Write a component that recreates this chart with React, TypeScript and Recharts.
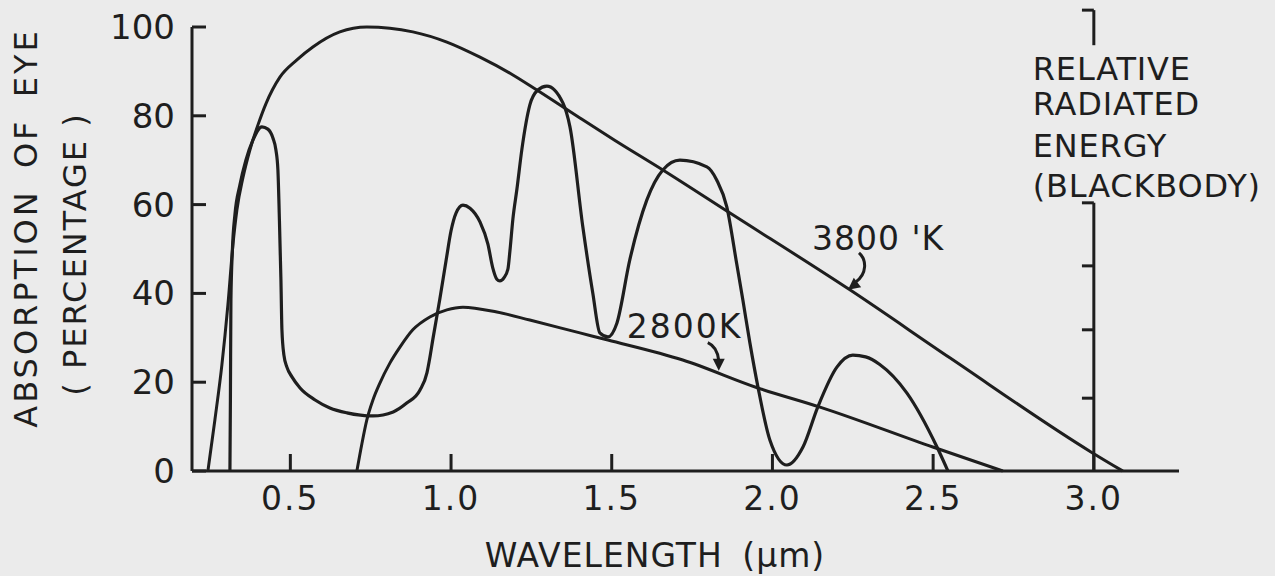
import React from 'react';
import { LineChart, Line, XAxis, YAxis, ReferenceLine, ReferenceDot, Label } from 'recharts';

const FONT = '"DejaVu Sans", Verdana, sans-serif';
const INK = '#1e1e1e';
const BG = '#ebebeb';

// axes
const X_DOMAIN: [number, number] = [0.194, 3.265];
const X_TICKS = [0.5, 1.0, 1.5, 2.0, 2.5, 3.0];
const Y_DOMAIN: [number, number] = [0, 100];
const Y_TICKS = [0, 20, 40, 60, 80, 100];

// secondary (relative radiated energy) axis drawn at 3.0 um
const RIGHT_AXIS_X = 3.0;
const RIGHT_AXIS_LOWER = [0, 60.4];
const RIGHT_AXIS_UPPER = [95.9, 103.8];
const RIGHT_AXIS_TICKS = [16.4, 31.8, 46.2, 60.4, 103.8];
const RIGHT_TICK_LEN = 0.037;

// blackbody 3800 K
const BB3800_X = [0.2435, 0.2652, 0.287, 0.3057, 0.3213, 0.3337, 0.3523, 0.3741, 0.399, 0.4239, 0.4675, 0.5204, 0.57, 0.654, 0.738, 0.881, 0.987, 1.09, 1.1925, 1.267, 1.401, 1.509, 1.659, 1.868, 2.241, 2.552, 2.991, 3.09];
const BB3800_Y = [0, 11.5, 23.9, 37.4, 50.9, 58.8, 66.0, 72.3, 77.9, 82.7, 88.7, 92.6, 95.5, 98.9, 100, 98.9, 96.6, 93.2, 89.2, 85.8, 79.5, 74.5, 67.8, 58.1, 40.8, 25.5, 4.3, 0];

// blackbody 2800 K
const BB2800_X = [0.707, 0.7225, 0.738, 0.757, 0.7786, 0.8097, 0.841, 0.881, 0.934, 0.987, 1.037, 1.1425, 1.245, 1.401, 1.488, 1.721, 1.955, 2.148, 2.499, 2.717];
const BB2800_Y = [0, 6.1, 11.5, 16.0, 19.8, 24.3, 27.9, 31.8, 34.7, 36.3, 36.9, 35.8, 34.0, 31.1, 29.5, 25.0, 18.7, 14.4, 5.4, 0];

// absorption of eye
const ABS_X = [0.312, 0.3135, 0.3151, 0.3197, 0.3275, 0.343, 0.3617, 0.3835, 0.4115, 0.43, 0.4458, 0.4551, 0.4613, 0.466, 0.4707, 0.4738, 0.48, 0.4893, 0.505, 0.5302, 0.577, 0.623, 0.676, 0.757, 0.82, 0.862, 0.903, 0.925, 0.934, 0.9435, 0.965, 0.9843, 1.0, 1.0155, 1.037, 1.059, 1.09, 1.1147, 1.13, 1.1425, 1.152, 1.1645, 1.177, 1.1831, 1.1925, 1.205, 1.2205, 1.245, 1.27, 1.298, 1.348, 1.37, 1.41, 1.441, 1.463, 1.488, 1.516, 1.556, 1.609, 1.659, 1.712, 1.796, 1.827, 1.858, 1.889, 1.908, 1.93, 1.955, 1.992, 2.045, 2.095, 2.141, 2.2005, 2.25, 2.29, 2.334, 2.418, 2.512, 2.546];
const ABS_Y = [0, 16.0, 38.5, 49.8, 57.7, 64.4, 70.0, 74.5, 77.5, 77.0, 75.0, 72.3, 67.8, 56.5, 43.0, 31.8, 26.1, 23.4, 21.2, 18.7, 16.0, 14.2, 13.1, 12.4, 13.3, 15.3, 18.2, 22.1, 25.5, 29.7, 38.7, 47.3, 54.1, 58.1, 59.9, 59.2, 56.1, 51.1, 45.7, 43.2, 42.8, 43.5, 45.5, 49.5, 56.8, 63.5, 72.5, 82.4, 85.8, 86.7, 82.9, 77.5, 55.0, 40.1, 31.1, 30.2, 33.3, 47.5, 61.0, 67.8, 70.0, 68.5, 65.5, 59.5, 46.6, 38.5, 28.8, 18.9, 7.0, 1.35, 5.4, 14.4, 23.4, 26.1, 25.7, 24.0, 17.6, 5.4, 0];

// annotations
const LABEL_3800 = { x: 2.235, y: 40.8, text: "3800 'K" };
const LABEL_2800 = { x: 1.833, y: 22.6, text: '2800K' };
const RIGHT_TITLE = ['RELATIVE', 'RADIATED', 'ENERGY', '(BLACKBODY)'];

const toPoints = (xs: number[], ys: number[]) => xs.map((x, i) => ({ x, y: ys[i] }));
const BB3800 = toPoints(BB3800_X, BB3800_Y);
const BB2800 = toPoints(BB2800_X, BB2800_Y);
const ABS = toPoints(ABS_X, ABS_Y);

const textStyle = { fill: INK, fontFamily: FONT };

const Arrow3800 = (p: any) => (
  <g transform={`translate(${p.cx},${p.cy})`}>
    <path d="M 11 -37 C 19 -30 19 -16 8 -8" fill="none" stroke={INK} strokeWidth={3} />
    <polygon points="0,0 13.2,-2.6 5.8,-12" fill={INK} />
    <text x={-36} y={-40} fontSize={33} letterSpacing={1} {...textStyle}>{LABEL_3800.text}</text>
  </g>
);

const Arrow2800 = (p: any) => (
  <g transform={`translate(${p.cx},${p.cy})`}>
    <path d="M -11 -28 C -4 -25 -1 -19 0 -10" fill="none" stroke={INK} strokeWidth={3} />
    <polygon points="0,0 6,-12 -6,-12" fill={INK} />
    <text x={-92} y={-33} fontSize={33} letterSpacing={2} {...textStyle}>{LABEL_2800.text}</text>
  </g>
);

const RightTitle = (p: any) => (
  <g>
    {RIGHT_TITLE.map((t, i) => (
      <text key={t} x={p.cx - 61} y={p.cy + [70, 105, 147, 187][i]} fontSize={32} letterSpacing={0.8} {...textStyle}>{t}</text>
    ))}
  </g>
);

const YTitle = () => (
  <g>
    <text transform="translate(37,228) rotate(-90)" textAnchor="middle" fontSize={32} letterSpacing={3} wordSpacing={8} {...textStyle}>ABSORPTION OF EYE</text>
    <text transform="translate(86,254) rotate(-90)" textAnchor="middle" fontSize={32} letterSpacing={2} {...textStyle}>( PERCENTAGE )</text>
  </g>
);

const XTitle = () => (
  <text x={655} y={567} textAnchor="middle" fontSize={33} letterSpacing={1} wordSpacing={8} {...textStyle}>WAVELENGTH (μm)</text>
);

const axisLine = { stroke: INK, strokeWidth: 3 };

export default function App() {
  return (
    <div style={{ position: 'absolute', left: 0, top: 0, width: 1275, height: 576, background: BG }}>
      <LineChart width={1275} height={576} margin={{ top: 27, right: 96, bottom: 0, left: 0 }}>
        <XAxis
          type="number"
          dataKey="x"
          domain={X_DOMAIN}
          ticks={X_TICKS}
          interval={0}
          tickFormatter={(v: number) => v.toFixed(1)}
          height={105}
          tickSize={-17}
          tickMargin={33}
          axisLine={axisLine}
          tickLine={axisLine}
          tick={{ fill: INK, fontSize: 33, fontFamily: FONT, letterSpacing: 2 }}
        >
          <Label content={XTitle} />
        </XAxis>
        <YAxis
          type="number"
          domain={Y_DOMAIN}
          ticks={Y_TICKS}
          interval={0}
          width={192}
          tickSize={-14}
          tickMargin={31}
          axisLine={axisLine}
          tickLine={axisLine}
          tick={{ fill: INK, fontSize: 34, fontFamily: FONT }}
        >
          <Label content={YTitle} />
        </YAxis>

        <ReferenceLine
          segment={[{ x: RIGHT_AXIS_X, y: RIGHT_AXIS_LOWER[0] }, { x: RIGHT_AXIS_X, y: RIGHT_AXIS_LOWER[1] }]}
          stroke={INK}
          strokeWidth={3}
          ifOverflow="visible"
        />
        <ReferenceLine
          segment={[{ x: RIGHT_AXIS_X, y: RIGHT_AXIS_UPPER[0] }, { x: RIGHT_AXIS_X, y: RIGHT_AXIS_UPPER[1] }]}
          stroke={INK}
          strokeWidth={3}
          ifOverflow="visible"
        />
        {RIGHT_AXIS_TICKS.map((v) => (
          <ReferenceLine
            key={v}
            segment={[{ x: RIGHT_AXIS_X - RIGHT_TICK_LEN, y: v }, { x: RIGHT_AXIS_X, y: v }]}
            stroke={INK}
            strokeWidth={3}
            ifOverflow="visible"
          />
        ))}

        <Line data={BB3800} dataKey="y" type="monotone" stroke={INK} strokeWidth={3} dot={false} activeDot={false} isAnimationActive={false} />
        <Line data={BB2800} dataKey="y" type="monotone" stroke={INK} strokeWidth={3} dot={false} activeDot={false} isAnimationActive={false} />
        <Line data={ABS} dataKey="y" type="monotone" stroke={INK} strokeWidth={3.2} dot={false} activeDot={false} isAnimationActive={false} />

        <ReferenceDot x={LABEL_3800.x} y={LABEL_3800.y} ifOverflow="visible" shape={Arrow3800} />
        <ReferenceDot x={LABEL_2800.x} y={LABEL_2800.y} ifOverflow="visible" shape={Arrow2800} />
        <ReferenceDot x={RIGHT_AXIS_X} y={RIGHT_AXIS_UPPER[1]} ifOverflow="visible" shape={RightTitle} />
      </LineChart>
    </div>
  );
}
